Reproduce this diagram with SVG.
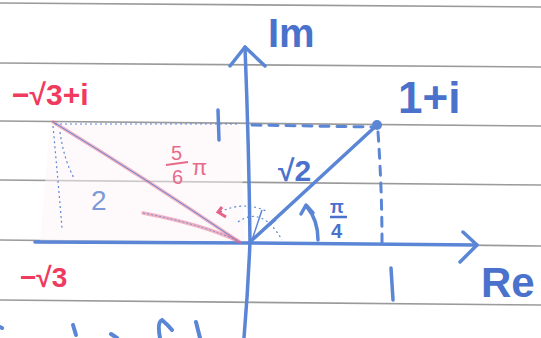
<svg xmlns="http://www.w3.org/2000/svg" width="541" height="338" viewBox="0 0 541 338">
<defs>
<style>
.rule{stroke:#9a9a9a;stroke-width:1.6;fill:none}
.ax{stroke:#5b86d6;stroke-width:3.5;fill:none;stroke-linecap:round;stroke-linejoin:round}
.dash{stroke:#5b86d6;stroke-width:3;fill:none;stroke-dasharray:9 8;stroke-linecap:round}
.thin{stroke:#5b86d6;stroke-width:1.2;fill:none;stroke-dasharray:2 3}
.pink{stroke:#e86a8a;stroke-width:3.5;fill:none;stroke-linecap:round;opacity:0.5}
.bt{fill:#4a72cc;font-family:"Liberation Sans",sans-serif;font-weight:bold}
.rt{fill:#f03a5e;font-family:"Liberation Sans",sans-serif;font-weight:bold}
</style>
</defs>
<rect width="541" height="338" fill="#fff"/>
<g id="paper">
<path class="rule" d="M0 3 L541 7"/>
<path class="rule" d="M0 63 L541 67"/>
<path class="rule" d="M0 121 L541 126"/>
<path class="rule" d="M0 180 L541 185"/>
<path class="rule" d="M0 240 L541 246"/>
<path class="rule" d="M0 300 L541 305"/>
</g>
<path d="M50 124 L240 124 L245 243 L40 243 Z" fill="#fdf6f8" opacity="0.5"/>
<g id="connectors">
<path class="ax" d="M245 47 Q249 150 250 242 Q248 290 244 338"/>
<path class="ax" d="M230 66 L245 47 L265 66"/>
<path class="ax" d="M35 242 L250 243 L477 245"/>
<path class="ax" d="M463 232 L477 245 L460 262"/>
<path class="ax" d="M250 242 L377 125"/>
<circle cx="377" cy="125" r="5" fill="#5b86d6"/>
<path class="dash" d="M252 125 L372 127"/>
<path class="dash" d="M378 132 Q382 190 382 243"/>
<path class="ax" d="M318 240 Q318 220 307 207" stroke-width="3"/>
<path class="ax" d="M301 214 L306 205 L313 213" stroke-width="3"/>
<path class="pink" d="M53 122 Q145 178 238 241"/>
<path d="M53 122 Q145 178 238 241" stroke="#5b86d6" stroke-width="1" fill="none"/>
<path class="pink" d="M143 213 Q205 225 240 242"/>
<path d="M143 213 Q205 225 240 242" stroke="#5b86d6" stroke-width="0.8" fill="none" stroke-dasharray="2 2"/>
<path class="thin" d="M220 212 Q245 200 268 212"/>
<path d="M222 207 L218 212 L226 217" stroke="#e0406a" stroke-width="3" fill="none" opacity="0.8"/>
<path d="M252 240 L262 210 M252 240 L276 220" stroke="#5b86d6" stroke-width="1.5" fill="none"/>
<path class="thin" d="M238 222 Q262 205 282 240"/>
<path class="thin" d="M53 126 Q58 180 62 228"/>
<path class="thin" d="M60 132 Q64 160 74 178"/>
<path class="thin" d="M55 124 L240 124"/>
<path class="ax" d="M218 110 L219 140" stroke="#4a72cc"/>
<path class="ax" d="M391 268 L393 300" stroke="#3f63c0"/>
</g>
<g id="labels">
<text class="bt" x="268" y="47" font-size="40" font-family="Liberation Serif">Im</text>
<text class="bt" x="398" y="113" font-size="44" font-weight="normal">1+i</text>
<text class="bt" x="481" y="297" font-size="42" font-weight="normal">Re</text>
<text class="bt" x="278" y="181" font-size="30">√2</text>
<text class="bt" x="330" y="213" font-size="18">π</text>
<path d="M330 217 L347 217" stroke="#4a72cc" stroke-width="2.5"/>
<text class="bt" x="331" y="238" font-size="20">4</text>
<text class="rt" x="12" y="105" font-size="30">−√3+i</text>
<text class="rt" x="20" y="287" font-size="28" font-weight="normal">−√3</text>
<text x="171" y="160" font-size="20" fill="#e86a8a" font-family="Liberation Sans">5</text>
<path d="M166 165 L188 162" stroke="#e86a8a" stroke-width="2"/>
<text x="172" y="184" font-size="20" fill="#e86a8a" font-family="Liberation Sans">6</text>
<text x="192" y="175" font-size="22" fill="#e86a8a" font-family="Liberation Sans">π</text>
<text x="91" y="210" font-size="28" fill="#7a9ad8" font-family="Liberation Sans">2</text>
</g>
<g id="bottom" stroke="#5b86d6" stroke-width="4" fill="none" stroke-linecap="round">
<path d="M0 327 L2 328"/>
<path d="M73 325 L76 335"/>
<path d="M111 334 L117 338"/>
<path d="M160 338 Q157 322 162 320 Q168 325 172 330"/>
<path d="M196 322 L200 338"/>
</g>
</svg>
